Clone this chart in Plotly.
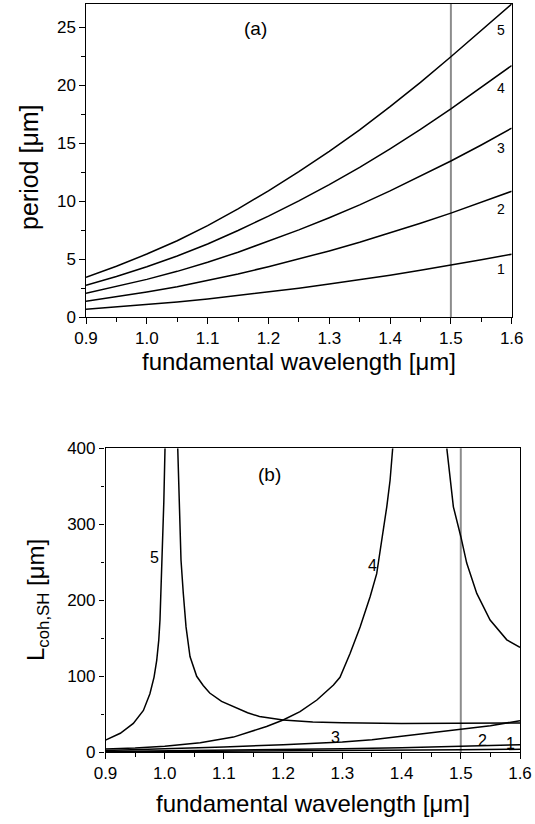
import plotly.graph_objects as go

# ---------------- panel (a): QPM period vs fundamental wavelength ----------------
wavelength = [0.90, 0.95, 1.00, 1.05, 1.10, 1.15, 1.20, 1.25,
              1.30, 1.35, 1.40, 1.45, 1.50, 1.55, 1.60]

period_order1 = [0.69, 0.88, 1.09, 1.32, 1.58, 1.87, 2.18, 2.51,
                 2.86, 3.23, 3.63, 4.05, 4.49, 4.95, 5.44]
period_order2 = [1.38, 1.76, 2.18, 2.64, 3.16, 3.74, 4.36, 5.02,
                 5.72, 6.46, 7.26, 8.10, 8.98, 9.90, 10.86]
period_order3 = [2.07, 2.64, 3.27, 3.96, 4.74, 5.61, 6.54, 7.53,
                 8.58, 9.69, 10.89, 12.15, 13.47, 14.85, 16.30]
period_order4 = [2.76, 3.52, 4.36, 5.28, 6.32, 7.48, 8.72, 10.04,
                 11.44, 12.92, 14.52, 16.20, 17.96, 19.80, 21.70]
period_order5 = [3.45, 4.40, 5.45, 6.60, 7.90, 9.35, 10.90, 12.55,
                 14.30, 16.15, 18.15, 20.25, 22.45, 24.70, 27.00]

period_series = [period_order1, period_order2, period_order3,
                 period_order4, period_order5]
period_labels = ["1", "2", "3", "4", "5"]

# ---------------- panel (b): SH coherence length ----------------
lcoh_wl_1 = [0.90, 1.00, 1.10, 1.20, 1.30, 1.40, 1.50, 1.60]
lcoh_1 = [0.4, 0.7, 1.0, 1.4, 1.9, 2.5, 3.2, 4.0]

lcoh_wl_2 = [0.90, 1.00, 1.10, 1.20, 1.30, 1.40, 1.50, 1.60]
lcoh_2 = [1.2, 1.8, 2.6, 3.5, 4.6, 6.0, 7.7, 10.0]

lcoh_wl_3 = [0.90, 1.00, 1.10, 1.20, 1.30, 1.35, 1.40, 1.45, 1.50, 1.55, 1.60]
lcoh_3 = [2.5, 4.5, 7.0, 10.0, 13.5, 16.5, 21.0, 25.5, 29.7, 35.0, 41.6]

lcoh_wl_4a = [0.900, 0.950, 1.000, 1.060, 1.116, 1.144, 1.172, 1.200, 1.2285, 1.257,
              1.285, 1.296, 1.313, 1.330, 1.347, 1.358, 1.3666, 1.375, 1.3806, 1.385]
lcoh_4a = [4.2, 5.5, 8.0, 12.5, 20.0, 27.0, 34.0, 42.5, 53.4, 68.8,
           88.6, 98.6, 130, 165, 205, 235, 279, 323, 358, 400]
lcoh_wl_4b = [1.4764, 1.4875, 1.500, 1.510, 1.527, 1.5495, 1.5777, 1.600]
lcoh_4b = [400, 323, 284, 249, 209, 174, 148, 138]

lcoh_wl_5a = [0.900, 0.925, 0.947, 0.964, 0.975, 0.982, 0.9865, 0.990,
              0.992, 0.9937, 0.9954, 0.997, 0.9985, 1.0005]
lcoh_5a = [16, 25, 38, 55, 77, 99, 121, 148, 174, 209, 240, 275, 330, 400]
lcoh_wl_5b = [1.022, 1.026, 1.0275, 1.0314, 1.036, 1.0427, 1.054, 1.065, 1.076,
              1.096, 1.116, 1.140, 1.160, 1.200, 1.250, 1.300, 1.400, 1.500, 1.600]
lcoh_5b = [400, 279, 253, 209, 165, 126, 100, 88, 78,
           67, 60, 52, 47, 42.5, 40, 39, 38, 38, 38.5]

lcoh_branches = [
    (lcoh_wl_1, lcoh_1), (lcoh_wl_2, lcoh_2), (lcoh_wl_3, lcoh_3),
    (lcoh_wl_4a, lcoh_4a), (lcoh_wl_4b, lcoh_4b),
    (lcoh_wl_5a, lcoh_5a), (lcoh_wl_5b, lcoh_5b),
]

operating_wavelength = 1.5

FONT = "Liberation Sans, Arial, Helvetica, sans-serif"
W, H = 535, 824
line_style = dict(color="black", width=1.5)

fig = go.Figure()

for ys in period_series:
    fig.add_trace(go.Scatter(x=wavelength, y=ys, mode="lines", line=line_style,
                             xaxis="x", yaxis="y", showlegend=False, hoverinfo="skip"))

for xs, ys in lcoh_branches:
    fig.add_trace(go.Scatter(x=xs, y=ys, mode="lines", line=line_style,
                             xaxis="x2", yaxis="y2", showlegend=False, hoverinfo="skip"))

# vertical marker at the operating wavelength in both panels
for xr, yr in (("x", "y domain"), ("x2", "y2 domain")):
    fig.add_shape(type="line", xref=xr, yref=yr,
                  x0=operating_wavelength, x1=operating_wavelength, y0=0, y1=1,
                  line=dict(color="rgb(140,140,140)", width=2), layer="below")

def px_x(p):
    return p / W

def px_y(p):
    return (H - p) / H

common_axis = dict(
    showline=True, linecolor="black", linewidth=1.2, mirror=True,
    showgrid=False, zeroline=False, automargin=False,
    ticks="outside", ticklen=5.5, tickwidth=1.2, tickcolor="black",
    tickfont=dict(family=FONT, size=17, color="black"),
)

fig.update_layout(
    width=W, height=H,
    margin=dict(l=0, r=0, t=0, b=0, pad=0, autoexpand=False),
    paper_bgcolor="white", plot_bgcolor="white",
    font=dict(family=FONT, color="black"),
    xaxis=dict(common_axis, domain=[px_x(86), px_x(511.7)], anchor="y",
               range=[0.9, 1.6], tick0=0.9, dtick=0.1, tickformat=".1f",
               minor=dict(ticks="outside", ticklen=3.5, dtick=0.05, tick0=0.9,
                          tickcolor="black", tickwidth=1.2)),
    yaxis=dict(common_axis, domain=[px_y(317.3), px_y(4)], anchor="x",
               range=[0, 27], tick0=0, dtick=5,
               minor=dict(ticks="outside", ticklen=3.5, dtick=2.5, tick0=0,
                          tickcolor="black", tickwidth=1.2)),
    xaxis2=dict(common_axis, domain=[px_x(105.5), px_x(520)], anchor="y2",
                range=[0.9, 1.6], tick0=0.9, dtick=0.1, tickformat=".1f",
                minor=dict(ticks="outside", ticklen=3.5, dtick=0.05, tick0=0.9,
                           tickcolor="black", tickwidth=1.2)),
    yaxis2=dict(common_axis, domain=[px_y(752.3), px_y(448.3)], anchor="x2",
                range=[0, 400], tick0=0, dtick=100,
                minor=dict(ticks="outside", ticklen=3.5, dtick=50, tick0=0,
                           tickcolor="black", tickwidth=1.2)),
)

annotations = []

# axis titles
title_font = dict(family=FONT, size=24, color="black")
annotations.append(dict(text="fundamental wavelength [μm]", xref="paper", yref="paper",
                        x=px_x(299), y=px_y(361), xanchor="center", yanchor="middle",
                        showarrow=False, font=title_font))
annotations.append(dict(text="fundamental wavelength [μm]", xref="paper", yref="paper",
                        x=px_x(313), y=px_y(803), xanchor="center", yanchor="middle",
                        showarrow=False, font=title_font))
annotations.append(dict(text="period [μm]", xref="paper", yref="paper",
                        x=px_x(29), y=px_y(167), xanchor="center", yanchor="middle",
                        textangle=-90, showarrow=False, font=dict(title_font, size=25)))
annotations.append(dict(text="L<sub>coh,SH</sub> [μm]", xref="paper", yref="paper",
                        x=px_x(37), y=px_y(600), xanchor="center", yanchor="middle",
                        textangle=-90, showarrow=False, font=title_font))

# panel tags
annotations.append(dict(text="(a)", xref="x", yref="y", x=1.178, y=24.9,
                        showarrow=False, font=dict(family=FONT, size=19, color="black")))
annotations.append(dict(text="(b)", xref="x2", yref="y2", x=1.177, y=366,
                        showarrow=False, font=dict(family=FONT, size=19, color="black")))

# curve labels, panel (a)
for lab, yv in zip(period_labels, [4.2, 9.33, 14.6, 19.75, 24.8]):
    annotations.append(dict(text=lab, xref="x", yref="y", x=1.582, y=yv,
                            showarrow=False, font=dict(family=FONT, size=14, color="black")))

# curve labels, panel (b)
for lab, xv, yv in [("5", 0.982, 256), ("4", 1.351, 246), ("3", 1.288, 19.7),
                    ("2", 1.537, 15.0), ("1", 1.5835, 11.0)]:
    annotations.append(dict(text=lab, xref="x2", yref="y2", x=xv, y=yv,
                            showarrow=False, font=dict(family=FONT, size=16, color="black")))

fig.update_layout(annotations=annotations)

fig.write_html("out.html")
